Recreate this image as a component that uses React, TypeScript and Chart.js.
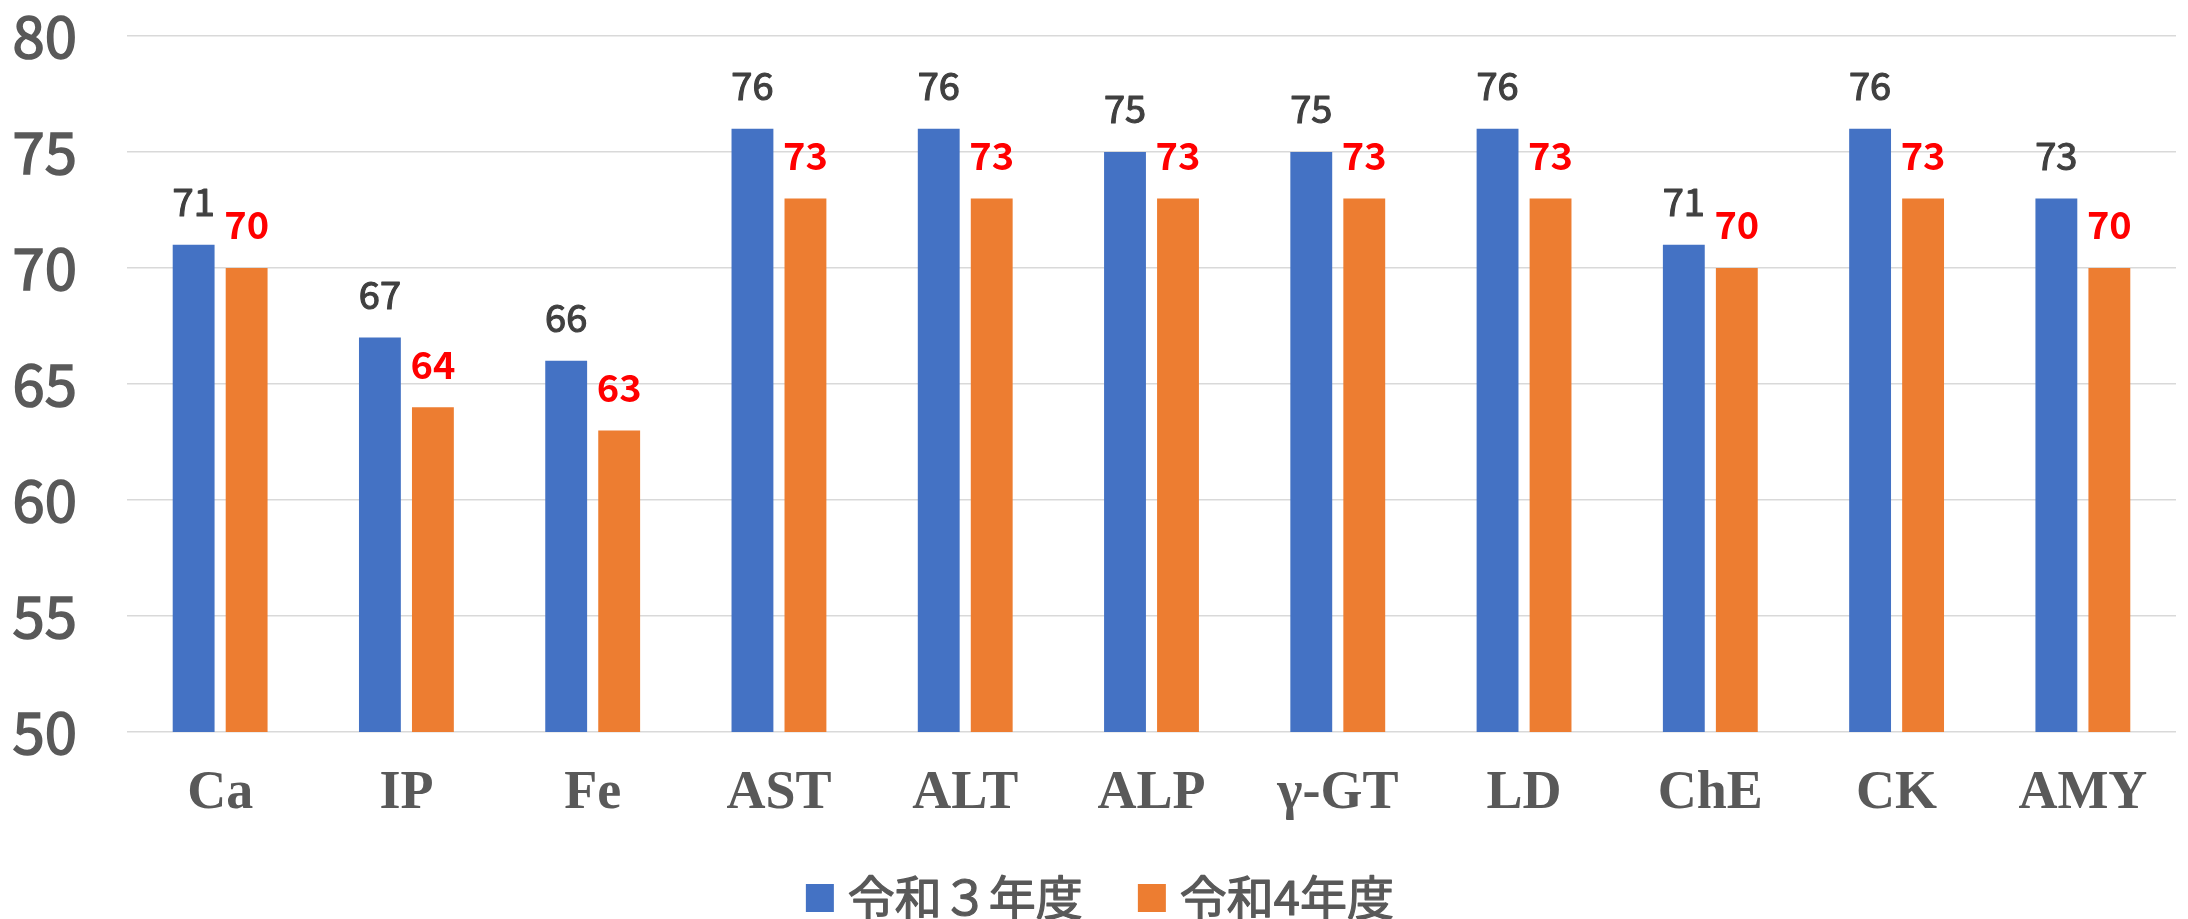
import React, { useEffect, useRef } from 'react';
import { Chart, registerables } from 'chart.js';
Chart.register(...registerables);

const categories = ['Ca', 'IP', 'Fe', 'AST', 'ALT', 'ALP', 'γ-GT', 'LD', 'ChE', 'CK', 'AMY'];
const seriesR3 = [71, 67, 66, 76, 76, 75, 75, 76, 71, 76, 73];
const seriesR4 = [70, 64, 63, 73, 73, 73, 73, 73, 70, 73, 70];
const seriesNames = ['令和３年度', '令和4年度'];
const seriesColors = ['#4472C4', '#ED7D31'];
const labelColors = ['#404040', '#FF0000'];
const yMin = 50;
const yMax = 80;
const yStep = 5;

const CJK = '"Noto Sans CJK JP", "Noto Sans", sans-serif';

const valueLabels = {
  id: 'valueLabels',
  afterDatasetsDraw(chart: any) {
    const ctx = chart.ctx;
    ctx.save();
    ctx.textAlign = 'center';
    ctx.textBaseline = 'middle';
    ctx.lineJoin = 'round';
    chart.data.datasets.forEach((ds: any, di: number) => {
      const meta = chart.getDatasetMeta(di);
      ctx.fillStyle = labelColors[di];
      ctx.strokeStyle = labelColors[di];
      ctx.lineWidth = 1.2;
      ctx.font = (di === 1 ? 'bold ' : '') + '38px ' + CJK;
      meta.data.forEach((el: any, i: number) => {
        const t = String(ds.data[i]);
        ctx.fillText(t, el.x, el.y - 43);
        if (di === 0) ctx.strokeText(t, el.x, el.y - 43);
      });
    });
    ctx.restore();
  },
};

const customLegend = {
  id: 'customLegend',
  afterDraw(chart: any) {
    const ctx = chart.ctx;
    ctx.save();
    ctx.font = '47px ' + CJK;
    ctx.textBaseline = 'middle';
    ctx.textAlign = 'left';
    ctx.lineJoin = 'round';
    const box = 28;
    const gapBoxText = 14;
    const gapItems = 55;
    const widths = seriesNames.map((n) => box + gapBoxText + ctx.measureText(n).width);
    const total = widths.reduce((a, b) => a + b, 0) + gapItems * (widths.length - 1);
    const centerX = chart.width * 0.5027;
    const cy = 897;
    let x = centerX - total / 2;
    seriesNames.forEach((n, i) => {
      ctx.fillStyle = seriesColors[i];
      ctx.fillRect(x, cy - box / 2 + 1, box, box);
      ctx.fillStyle = '#595959';
      ctx.strokeStyle = '#595959';
      ctx.lineWidth = 1.2;
      ctx.fillText(n, x + box + gapBoxText, cy);
      ctx.strokeText(n, x + box + gapBoxText, cy);
      x += widths[i] + gapItems;
    });
    ctx.restore();
  },
};

export default function App() {
  const ref = useRef<HTMLCanvasElement | null>(null);
  useEffect(() => {
    if (!ref.current) return;
    const chart = new Chart(ref.current, {
      type: 'bar',
      data: {
        labels: categories,
        datasets: [
          {
            label: seriesNames[0],
            data: seriesR3,
            backgroundColor: seriesColors[0],
            categoryPercentage: 0.569,
            barPercentage: 0.79,
          },
          {
            label: seriesNames[1],
            data: seriesR4,
            backgroundColor: seriesColors[1],
            categoryPercentage: 0.569,
            barPercentage: 0.79,
          },
        ],
      },
      options: {
        animation: false,
        responsive: true,
        maintainAspectRatio: false,
        layout: { padding: { left: 0, top: 36, right: 12, bottom: 80 } },
        plugins: {
          legend: { display: false },
          tooltip: { enabled: false },
        },
        scales: {
          x: {
            grid: { display: false, drawTicks: false },
            border: { display: false },
            ticks: {
              color: '#595959',
              padding: 30,
              font: { family: '"Liberation Serif", "Times New Roman", serif', size: 54, weight: 'bold' },
            },
            afterFit(scale: any) {
              scale.height = 107;
              scale.paddingLeft = 0;
              scale.paddingRight = 0;
            },
          },
          y: {
            min: yMin,
            max: yMax,
            ticks: {
              stepSize: yStep,
              color: '#595959',
              padding: 50,
              textStrokeColor: '#595959',
              textStrokeWidth: 1.6,
              font: { family: CJK, size: 58 },
            },
            grid: { color: '#D9D9D9', lineWidth: 1.5, drawTicks: false },
            border: { display: false },
            afterFit(scale: any) {
              scale.width = 127;
              scale.paddingTop = 0;
              scale.paddingBottom = 0;
            },
          },
        },
      },
      plugins: [valueLabels, customLegend],
    });
    return () => chart.destroy();
  }, []);
  return (
    <div style={{ position: 'absolute', left: 0, top: 0, width: 2188, height: 919, background: '#fff' }}>
      <canvas ref={ref} />
    </div>
  );
}
